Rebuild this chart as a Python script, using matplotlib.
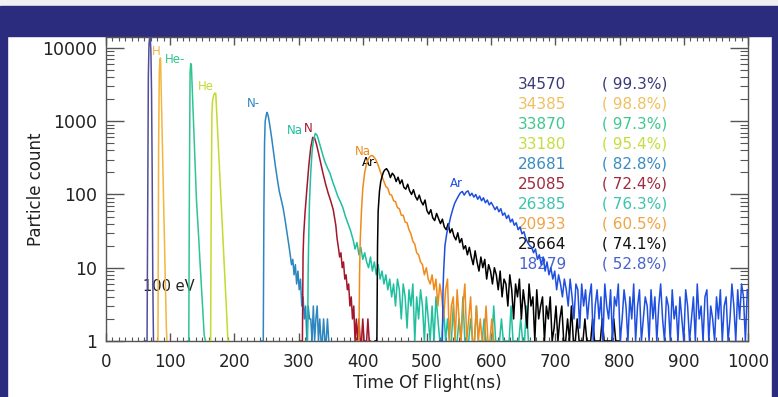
import numpy as np
import matplotlib.pyplot as plt
from matplotlib.patches import Rectangle
from matplotlib.ticker import FixedLocator, FixedFormatter, LogLocator, MultipleLocator, NullFormatter

# ---- data (counts per ns bin) ----
# each series: explicit points around the peak + a tail sampled every 2-3 ns

h1_t = [60, 64, 65, 66, 67, 68, 69, 70, 71, 72, 73, 74]
h1_c = [1, 1, 60, 4000, 11000, 14000, 13500, 9000, 2500, 200, 6, 1]

h2_t = [78, 81, 82, 83, 84, 85, 86, 87, 88, 89, 90, 91, 92, 93, 94, 95]
h2_c = [1, 1, 400, 4500, 7000, 7300, 2800, 1100, 430, 170, 65, 26, 10, 4, 1.6, 1]

he1_t = [127, 129, 130, 131, 132, 133, 135, 137, 139, 141, 144, 147, 150, 153, 155]
he1_c = [1, 1, 150, 4500, 6100, 5900, 2000, 700, 240, 83, 30, 10, 3.5, 1.2, 1]

he2_t = [160, 163, 164, 165, 166, 168, 170, 171, 172, 175, 178, 181, 184, 187, 190, 192]
he2_c = [1, 1, 90, 1200, 1900, 2300, 2420, 2400, 1600, 470, 140, 41, 12, 3.6, 1, 1]

nm_t = [242, 245, 246, 247, 248, 250, 251, 253, 255, 258, 261, 264, 267, 270, 273, 276, 279, 282, 285]
nm_c = [1, 1, 60, 500, 1000, 1250, 1320, 1150, 900, 600, 380, 240, 160, 110, 85, 65, 45, 30, 20]
nm_tail = [15, 11, 13, 8, 11, 6, 9, 5, 7, 3, 4, 2, 3, 1, 3, 2, 2, 1, 3, 1, 2, 3, 1, 2, 1, 1, 2, 1, 1, 2, 1]

n_t = [303, 306, 307, 308, 310, 313, 316, 319, 322, 325, 328, 331, 334, 338, 342, 346, 350, 354, 358]
n_c = [1, 1, 15, 28, 55, 120, 250, 440, 600, 590, 480, 370, 280, 195, 140, 105, 82, 62, 38]
n_tail = [25, 19, 14, 16, 10, 12, 7, 8, 5, 6, 3, 4, 2, 3, 1, 2, 1, 2, 1, 1, 2, 1, 1, 1, 2, 1, 1]

na1_t = [311, 314, 315, 316, 317, 319, 321, 323, 326, 329, 332, 335, 338, 341, 345, 349, 353,
         357, 361, 365, 369, 373, 377, 381, 385]
na1_c = [1, 1, 10, 30, 80, 200, 380, 540, 680, 640, 520, 420, 340, 280, 230, 194, 150,
         120, 95, 80, 66, 50, 40, 32, 24]
na1_tail = [18, 22, 15, 19, 13, 16, 12, 10, 14, 9, 12, 8, 11, 7, 9, 6, 8, 5, 7, 4,
            6, 3, 7, 5, 2, 6, 4, 1.5, 5, 3, 6, 1, 4, 2, 5, 3, 1, 4, 2, 1,
            3, 1, 4, 2, 1, 1, 3, 1, 2, 1, 1, 3, 1, 1, 2, 1, 4, 1, 1, 1,
            2, 1, 1, 3, 1, 1, 1, 2, 1, 1, 1, 1, 3, 1, 1, 1, 2, 1, 1, 1,
            1, 3, 1, 1, 1, 1, 2, 1, 1, 3, 1, 1]

na2_t = [391, 394, 395, 396, 398, 400, 403, 406, 409, 412, 415, 418, 421, 424, 427, 430]
na2_c = [1, 1, 8, 23, 60, 120, 200, 265, 310, 335, 340, 320, 290, 250, 210, 175]
na2_tail = [150, 128, 122, 100, 98, 82, 80, 66, 64, 52, 52, 42, 41, 33, 29, 23, 21, 16, 15, 12,
            11, 8, 10, 7, 6, 8, 5, 7, 3, 6, 4, 2, 5, 7, 1, 3, 4, 1, 5, 2,
            1, 3, 6, 1, 2, 4, 1, 1, 3, 1, 2, 1, 1, 3, 1, 1, 2, 1, 1]

arm_t = [419, 422, 423, 424, 426, 428, 430, 432, 434, 437]
arm_c = [1, 1, 20, 60, 110, 150, 175, 200, 215, 225]
arm_tail = [205, 170, 195, 180, 150, 172, 140, 158, 125, 118, 138, 112, 100, 116, 94, 84, 98, 80, 72, 84, 60,
            54, 62, 48, 44, 55, 47, 40, 46, 36, 33, 40, 30, 34, 27, 24, 30, 22, 25, 18, 20,
            15, 19, 14, 11, 17, 12, 9, 14, 10, 13, 7, 11, 9, 6, 10, 8, 5, 9, 4, 7,
            6, 3, 8, 5, 2, 6, 4, 7, 2, 5, 3, 1.5, 6, 3, 4, 1, 5, 2, 3, 4,
            1, 3, 2, 4, 1, 1.5, 3, 1, 2, 3, 1, 1, 2, 1, 3, 1, 1, 2, 1, 1,
            1, 2, 1, 1, 1, 2, 1, 1, 1, 1, 2, 1, 1, 1, 1, 1, 2, 1, 1, 1]

ar_t = [520, 524, 525, 526, 528, 531, 534, 537, 540, 543, 546, 549, 552, 555]
ar_c = [1, 1, 5, 9, 20, 30, 38, 50, 62, 75, 85, 95, 105, 110]
ar_tail = [98, 108, 112, 96, 104, 92, 100, 86, 95, 82, 90, 77, 84, 72, 78,
           70, 62, 68, 58, 64, 52, 56, 47, 52, 42, 46, 38, 41, 33, 36, 29, 31, 25, 22, 20,
           19, 16, 18, 13, 15, 11, 14, 9, 12, 8, 10, 7, 9, 5, 8, 6, 4, 7, 5, 3,
           7, 4, 2, 6, 5, 1.5, 6, 3, 5, 2, 4, 6, 1, 3, 5, 2, 4, 1, 6, 3,
           2, 5, 1, 4, 3, 6, 1, 2, 5, 3, 1, 4, 2, 6, 1, 3, 5, 1, 2, 4,
           3, 1, 5, 2, 4, 1, 3, 6, 2, 1, 4, 3, 1, 5, 2, 3, 1, 4, 2, 1,
           5, 3, 1, 2, 4, 1, 6, 2, 3, 1, 4, 5, 1, 3, 2, 1, 4, 2, 5, 1,
           3, 4, 1, 2, 6, 3, 1, 5, 2, 6, 4, 1, 5]

totals = ["34570", "34385", "33870", "33180", "28681", "25085", "26385", "20933", "25664", "18279"]
percents = ["( 99.3%)", "( 98.8%)", "( 97.3%)", "( 95.4%)", "( 82.8%)",
            "( 72.4%)", "( 76.3%)", "( 60.5%)", "( 74.1%)", "( 52.8%)"]
peak_names = ["H", "", "He-", "He", "N-", "N", "Na", "Na", "Ar-", "Ar"]


def series(head_t, head_c, tail=(), start=None, step=3):
    t = list(head_t)
    if tail:
        t += [start + step * i for i in range(len(tail))]
    return t, list(head_c) + list(tail)


all_series = [
    series(h1_t, h1_c),
    series(h2_t, h2_c),
    series(he1_t, he1_c),
    series(he2_t, he2_c),
    series(nm_t, nm_c, nm_tail, 287, 2),
    series(n_t, n_c, n_tail, 360, 2),
    series(na1_t, na1_c, na1_tail, 388, 3),
    series(na2_t, na2_c, na2_tail, 433, 3),
    series(arm_t, arm_c, arm_tail, 440, 3),
    series(ar_t, ar_c, ar_tail, 558, 3),
]

line_colors = ['#4f4f9c', '#f2b540', '#2fc58e', '#c4da2e', '#2c86c0',
               '#a3162c', '#1fbf9f', '#f08a1a', '#000000', '#1f4fe0']
text_colors = ['#3a3a7a', '#f0c060', '#3ec890', '#c4de40', '#3a8cc0',
               '#a02c40', '#3cc4ae', '#f0a444', '#111111', '#4a62cc']

# ---- figure with slide frame ----
fig = plt.figure(figsize=(7.78, 3.97), dpi=100)
fig.patch.set_facecolor('white')
frame = '#2b2c7e'
fig.add_artist(Rectangle((0, 0.985), 1, 0.015, transform=fig.transFigure, color='#f0f0f2', zorder=-5))
fig.add_artist(Rectangle((0, 0.9093), 1, 0.0757, transform=fig.transFigure, color=frame, zorder=-5))
fig.add_artist(Rectangle((0, 0), 0.009, 0.91, transform=fig.transFigure, color=frame, zorder=-5))
fig.add_artist(Rectangle((0.9923, 0), 0.0077, 0.91, transform=fig.transFigure, color=frame, zorder=-5))

ax = fig.add_axes([0.1362, 0.1411, 0.8252, 0.7657])

for (t, c), col in zip(all_series, line_colors):
    ax.plot(t, c, color=col, lw=1.1, zorder=3)

ax.set_yscale('log')
ax.set_xlim(0, 1000)
ax.set_ylim(1, 14100)

# peak labels
label_pos = [(72, 8800), None, (92, 6860), (143, 2940), (220, 1720),
             (308, 785), (282, 736), (388, 380), (399, 270), (536, 139)]
for name, pos, col in zip(peak_names, label_pos, line_colors):
    if pos is None:
        continue
    if name == "H":
        col = '#f2b540'
    ax.text(pos[0], pos[1], name, color=col, fontsize=8.5, va='center', ha='left', zorder=2)
ax.text(58, 5.46, "100 eV", color='#222222', fontsize=10.5, va='center', ha='left', zorder=2)

# totals / efficiencies column
for i, (n, p) in enumerate(zip(totals, percents)):
    y = 0.845 - i * 0.0658
    ax.text(0.642, y, n, transform=ax.transAxes, color=text_colors[i], fontsize=11,
            va='center', ha='left', zorder=1)
    ax.text(0.773, y, p, transform=ax.transAxes, color=text_colors[i], fontsize=11,
            va='center', ha='left', zorder=1)

# axes, ticks
ax.yaxis.set_major_locator(FixedLocator([1, 10, 100, 1000, 10000]))
ax.yaxis.set_major_formatter(FixedFormatter(["1", "10", "100", "1000", "10000"]))
ax.yaxis.set_minor_locator(LogLocator(base=10, subs=np.arange(2, 10)))
ax.yaxis.set_minor_formatter(NullFormatter())
ax.xaxis.set_major_locator(MultipleLocator(100))
ax.xaxis.set_minor_locator(MultipleLocator(10))

for s in ax.spines.values():
    s.set_color('#555555')
    s.set_linewidth(1.0)
ax.tick_params(axis='y', which='major', direction='in', length=13, width=1, color='#555555',
               left=True, right=True, labelsize=12.5, labelcolor='#222222', pad=6.5)
ax.tick_params(axis='y', which='minor', direction='in', length=5.5, width=0.8, color='#555555',
               left=True, right=True)
ax.tick_params(axis='x', which='major', direction='in', length=6, width=1, color='#555555',
               bottom=True, top=True, labelsize=12, labelcolor='#222222', pad=9)
ax.tick_params(axis='x', which='minor', direction='in', length=3, width=0.8, color='#555555',
               bottom=True, top=True)

ax.set_xlabel("Time Of Flight(ns)", fontsize=12, color='#222222', va='center')
ax.xaxis.set_label_coords(0.5, -0.138)
ax.set_ylabel("Particle count", fontsize=12, color='#222222', va='center')
ax.yaxis.set_label_coords(-0.109, 0.5)

fig.savefig("out.png", dpi=100)
